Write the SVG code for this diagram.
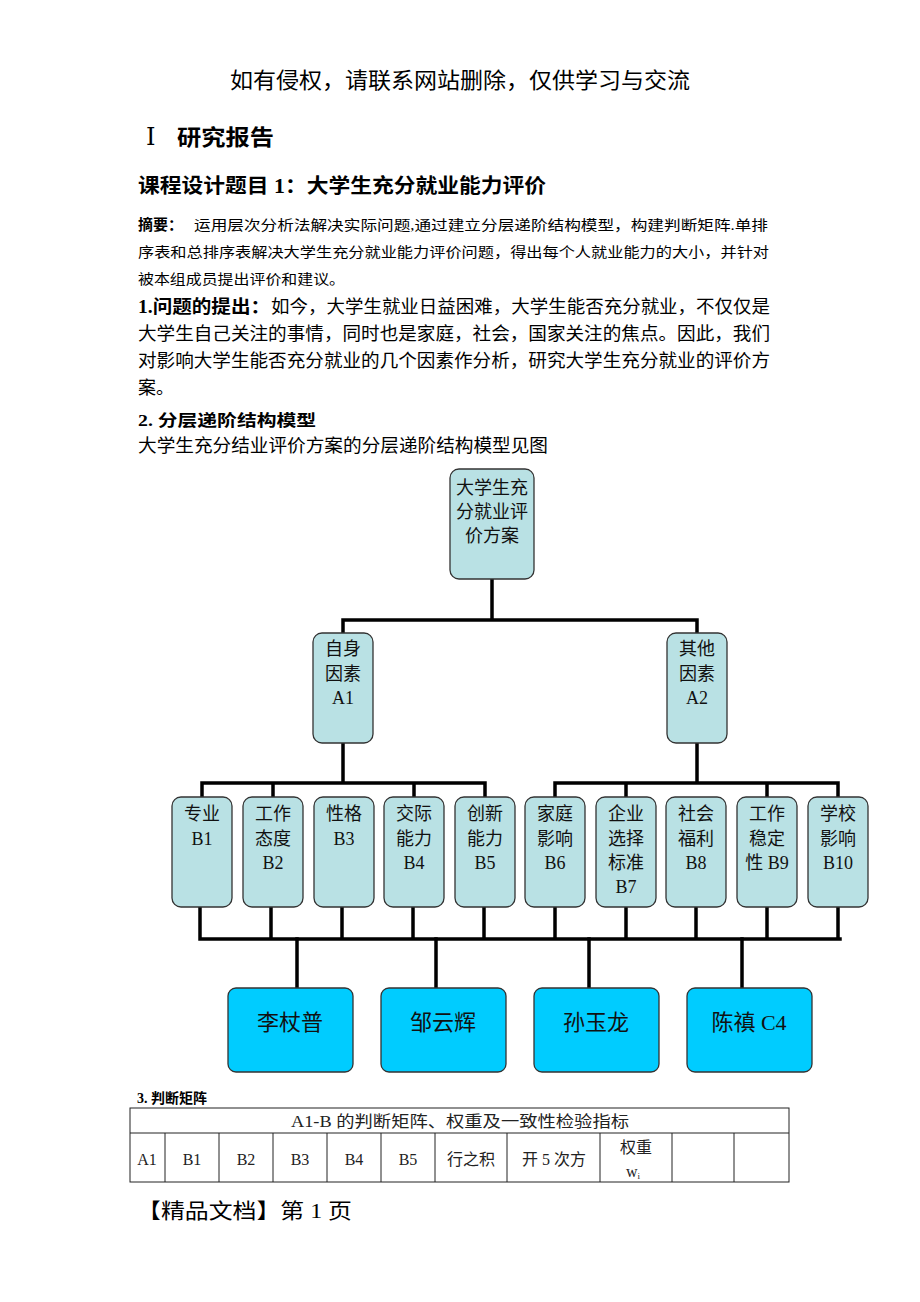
<svg xmlns="http://www.w3.org/2000/svg" width="920" height="1302" viewBox="0 0 920 1302">
<style>
.t{font-family:"Liberation Serif","Noto Sans CJK SC",serif;fill:#000}
.b{font-weight:bold}
.n{fill:#b9e1e4;stroke:#333;stroke-width:1.3}
.c{fill:#00ccff;stroke:#333;stroke-width:1.3}
.nt{font-family:"Liberation Serif","Noto Sans CJK SC",serif;font-size:18px;fill:#111;text-anchor:middle}
.ct{font-family:"Liberation Serif","Noto Sans CJK SC",serif;font-size:22px;fill:#111;text-anchor:middle}
.k{stroke:#000;stroke-width:3.5;fill:none;stroke-linecap:square}
.g{stroke:#222;stroke-width:1;fill:none}
.tt{font-family:"Liberation Serif","Noto Sans CJK SC",serif;font-size:16px;fill:#222;text-anchor:middle}
</style>
<rect width="920" height="1302" fill="#fff"/>

<g id="page-text">
<text class="t" x="460" y="88" font-size="22" text-anchor="middle" textLength="460" lengthAdjust="spacingAndGlyphs">如有侵权，请联系网站删除，仅供学习与交流</text>
<text x="146" y="145" font-size="24" style="font-family:'DejaVu Serif','Liberation Serif',serif" fill="#000">Ⅰ</text>
<text class="t b" x="177" y="145" font-size="22" textLength="97" lengthAdjust="spacingAndGlyphs">研究报告</text>
<text class="t b" x="138" y="193" font-size="20" textLength="408" lengthAdjust="spacingAndGlyphs">课程设计题目 1：大学生充分就业能力评价</text>
<text class="t b" x="138" y="230" font-size="15">摘要：</text>
<text class="t" x="194" y="230" font-size="14" textLength="574" lengthAdjust="spacingAndGlyphs">运用层次分析法解决实际问题,通过建立分层递阶结构模型，构建判断矩阵.单排</text>
<text class="t" x="138" y="257" font-size="14" textLength="631" lengthAdjust="spacingAndGlyphs">序表和总排序表解决大学生充分就业能力评价问题，得出每个人就业能力的大小，并针对</text>
<text class="t" x="138" y="284" font-size="14" textLength="207" lengthAdjust="spacingAndGlyphs">被本组成员提出评价和建议。</text>
<text class="t b" x="138" y="313" font-size="18" textLength="132" lengthAdjust="spacingAndGlyphs">1.问题的提出：</text>
<text class="t" x="271" y="313" font-size="18" textLength="499" lengthAdjust="spacingAndGlyphs">如今，大学生就业日益困难，大学生能否充分就业，不仅仅是</text>
<text class="t" x="138" y="340" font-size="18" textLength="632" lengthAdjust="spacingAndGlyphs">大学生自己关注的事情，同时也是家庭，社会，国家关注的焦点。因此，我们</text>
<text class="t" x="138" y="367" font-size="18" textLength="632" lengthAdjust="spacingAndGlyphs">对影响大学生能否充分就业的几个因素作分析，研究大学生充分就业的评价方</text>
<text class="t" x="138" y="394" font-size="18">案。</text>
<text class="t b" x="138" y="426" font-size="16" textLength="178" lengthAdjust="spacingAndGlyphs">2.  分层递阶结构模型</text>
<text class="t" x="138" y="452" font-size="18" textLength="410" lengthAdjust="spacingAndGlyphs">大学生充分结业评价方案的分层递阶结构模型见图</text>
</g>

<g id="connectors">
<path class="k" d="M492 578V620M343 620H697M343 620V633M697 620V633"/>
<path class="k" d="M343 743V783M202 783H485M202 783V797M273 783V797M414 783V797M485 783V797"/>
<path class="k" d="M697 743V783M555 783H838M555 783V797M626 783V797M767 783V797M838 783V797"/>
<path class="k" d="M200 907V939M271 907V939M342 907V939M413 907V939M484 907V939M555 907V939M626 907V939M696 907V939M767 907V939M838 907V939M200 939H840"/>
<path class="k" d="M297 939V988M436 939V988M589 939V988M742 939V988"/>
</g>

<g id="root"><rect class="n" x="450" y="469" width="84" height="110" rx="9"/>
<text class="nt" x="492" y="494">大学生充</text><text class="nt" x="492" y="518">分就业评</text><text class="nt" x="492" y="542">价方案</text></g>

<g id="A1"><rect class="n" x="313" y="633" width="60" height="110" rx="9"/>
<text class="nt" x="343" y="655">自身</text><text class="nt" x="343" y="680">因素</text><text class="nt" x="343" y="704">A1</text></g>
<g id="A2"><rect class="n" x="667" y="633" width="60" height="110" rx="9"/>
<text class="nt" x="697" y="655">其他</text><text class="nt" x="697" y="680">因素</text><text class="nt" x="697" y="704">A2</text></g>

<g id="B1"><rect class="n" x="172" y="797" width="60" height="110" rx="9"/>
<text class="nt" x="202" y="820">专业</text><text class="nt" x="202" y="845">B1</text></g>
<g id="B2"><rect class="n" x="243" y="797" width="60" height="110" rx="9"/>
<text class="nt" x="273" y="820">工作</text><text class="nt" x="273" y="845">态度</text><text class="nt" x="273" y="869">B2</text></g>
<g id="B3"><rect class="n" x="314" y="797" width="60" height="110" rx="9"/>
<text class="nt" x="344" y="820">性格</text><text class="nt" x="344" y="845">B3</text></g>
<g id="B4"><rect class="n" x="384" y="797" width="60" height="110" rx="9"/>
<text class="nt" x="414" y="820">交际</text><text class="nt" x="414" y="845">能力</text><text class="nt" x="414" y="869">B4</text></g>
<g id="B5"><rect class="n" x="455" y="797" width="60" height="110" rx="9"/>
<text class="nt" x="485" y="820">创新</text><text class="nt" x="485" y="845">能力</text><text class="nt" x="485" y="869">B5</text></g>
<g id="B6"><rect class="n" x="525" y="797" width="60" height="110" rx="9"/>
<text class="nt" x="555" y="820">家庭</text><text class="nt" x="555" y="845">影响</text><text class="nt" x="555" y="869">B6</text></g>
<g id="B7"><rect class="n" x="596" y="797" width="60" height="110" rx="9"/>
<text class="nt" x="626" y="820">企业</text><text class="nt" x="626" y="845">选择</text><text class="nt" x="626" y="869">标准</text><text class="nt" x="626" y="893">B7</text></g>
<g id="B8"><rect class="n" x="666" y="797" width="60" height="110" rx="9"/>
<text class="nt" x="696" y="820">社会</text><text class="nt" x="696" y="845">福利</text><text class="nt" x="696" y="869">B8</text></g>
<g id="B9"><rect class="n" x="737" y="797" width="60" height="110" rx="9"/>
<text class="nt" x="767" y="820">工作</text><text class="nt" x="767" y="845">稳定</text><text class="nt" x="767" y="869">性 B9</text></g>
<g id="B10"><rect class="n" x="808" y="797" width="60" height="110" rx="9"/>
<text class="nt" x="838" y="820">学校</text><text class="nt" x="838" y="845">影响</text><text class="nt" x="838" y="869">B10</text></g>

<g id="C1"><rect class="c" x="228" y="988" width="125" height="84" rx="8"/><text class="ct" x="290" y="1030">李杖普</text></g>
<g id="C2"><rect class="c" x="381" y="988" width="125" height="84" rx="8"/><text class="ct" x="443" y="1030">邹云辉</text></g>
<g id="C3"><rect class="c" x="534" y="988" width="125" height="84" rx="8"/><text class="ct" x="596" y="1030">孙玉龙</text></g>
<g id="C4"><rect class="c" x="687" y="988" width="125" height="84" rx="8"/><text class="ct" x="749" y="1030">陈禛 C4</text></g>

<g id="table">
<text class="t b" x="137" y="1103" font-size="14">3. 判断矩阵</text>
<rect class="g" x="130" y="1108" width="659" height="74"/>
<path class="g" d="M130 1133H789M165 1133V1182M219 1133V1182M273 1133V1182M327 1133V1182M381 1133V1182M435 1133V1182M507 1133V1182M600 1133V1182M672 1133V1182M734 1133V1182"/>
<text class="tt" x="460" y="1127" textLength="338" lengthAdjust="spacingAndGlyphs">A1-B 的判断矩阵、权重及一致性检验指标</text>
<text class="tt" x="147" y="1165">A1</text>
<text class="tt" x="192" y="1165">B1</text>
<text class="tt" x="246" y="1165">B2</text>
<text class="tt" x="300" y="1165">B3</text>
<text class="tt" x="354" y="1165">B4</text>
<text class="tt" x="408" y="1165">B5</text>
<text class="tt" x="471" y="1165">行之积</text>
<text class="tt" x="554" y="1165">开 5 次方</text>
<text class="tt" x="636" y="1153">权重</text>
<text class="tt" x="633" y="1177" font-size="12">w<tspan font-size="9" dy="2">i</tspan></text>
</g>

<text class="t" x="137" y="1218" font-size="21" textLength="215" lengthAdjust="spacingAndGlyphs">【精品文档】第 1 页</text>
</svg>
